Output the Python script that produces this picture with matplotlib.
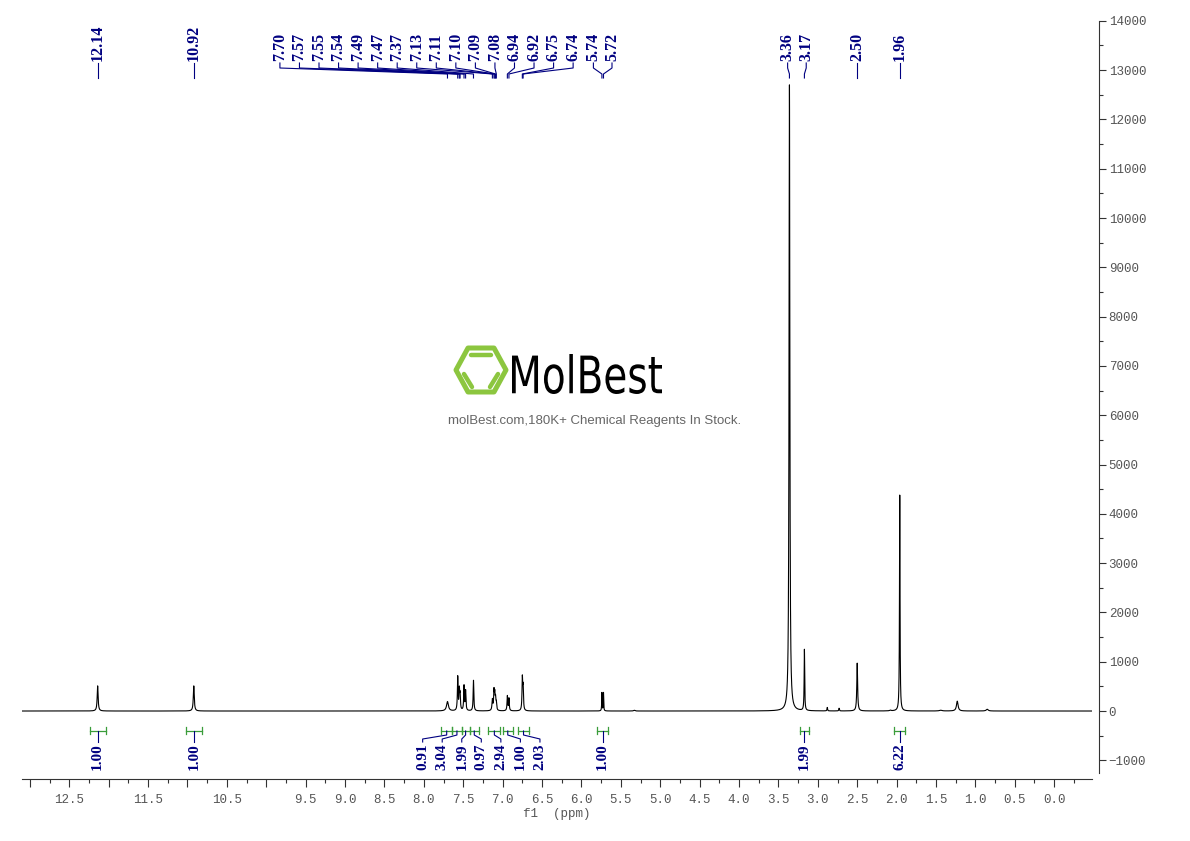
import numpy as np
import matplotlib
matplotlib.use("Agg")
import matplotlib.pyplot as plt
from matplotlib import transforms
from matplotlib.font_manager import FontProperties
from matplotlib.patches import PathPatch, Polygon
from matplotlib.textpath import TextPath
from matplotlib.lines import Line2D

# 스펙트럼 피크 (ppm, 높이, 반폭 ppm)
peak_ppm = [12.14, 10.92, 7.70, 7.57, 7.55, 7.54, 7.49, 7.47, 7.37,
            7.13, 7.11, 7.10, 7.09, 7.08, 6.94, 6.92, 6.75, 6.74,
            5.74, 5.72, 5.33, 3.36, 3.17, 2.88, 2.73, 2.50, 2.08, 1.96,
            1.44, 1.23, 0.85]
peak_height = [510, 510, 190, 680, 400, 300, 500, 400, 620,
               220, 380, 300, 220, 140, 300, 250, 640, 450,
               370, 370, 15, 12700, 1240, 70, 55, 970, 15, 4380,
               15, 200, 35]
peak_width = [0.007, 0.007, 0.014, 0.005, 0.005, 0.005, 0.005, 0.005, 0.005,
              0.006, 0.005, 0.005, 0.005, 0.005, 0.005, 0.005, 0.005, 0.005,
              0.003, 0.003, 0.01, 0.006, 0.004, 0.004, 0.004, 0.006, 0.01, 0.004,
              0.02, 0.012, 0.015]

# 상단 피크 라벨
label_ppm = [12.14, 10.92, 7.70, 7.57, 7.55, 7.54, 7.49, 7.47, 7.37, 7.13,
             7.11, 7.10, 7.09, 7.08, 6.94, 6.92, 6.75, 6.74, 5.74, 5.72,
             3.36, 3.17, 2.50, 1.96]

# 적분 구간
integ_start = [12.24, 11.02, 7.78, 7.64, 7.52, 7.42, 7.18, 7.00, 6.81, 5.80, 3.23, 2.03]
integ_end = [12.04, 10.82, 7.64, 7.52, 7.42, 7.30, 7.03, 6.87, 6.66, 5.66, 3.11, 1.89]
integ_value = [1.00, 1.00, 0.91, 3.04, 1.99, 0.97, 2.94, 1.00, 2.03, 1.00, 1.99, 6.22]

x_major = np.arange(0, 13.01, 0.5)
x_hidden = [13.0, 12.0, 11.0, 10.0]
y_major = np.arange(-1000, 14001, 1000)

NAVY = "#000080"
GREEN = "#3a9d3a"
W, H = 1190, 841

fig = plt.figure(figsize=(W / 100, H / 100), dpi=100)
ax = fig.add_axes([22 / W, (H - 779) / H, 1070 / W, 761 / H])

x = np.linspace(13.1, -0.48, 80000)
y = np.zeros_like(x)
for p, h, w in zip(peak_ppm, peak_height, peak_width):
    y += h * w ** 2 / ((x - p) ** 2 + w ** 2)
ax.plot(x, y, color="black", lw=0.8)

ax.set_xlim(13.1, -0.48)
ax.set_ylim(-1379, 14057)

for s in ["left", "top"]:
    ax.spines[s].set_visible(False)
ax.spines["right"].set_position(("outward", 5))
ax.spines["right"].set_bounds(-1260, 14000)
ax.spines["bottom"].set_color("#333333")
ax.spines["right"].set_color("#333333")

mono = FontProperties(family="Liberation Mono", size=9)
ax.set_xticks(x_major)
ax.set_xticklabels(["" if v in x_hidden else f"{v:.1f}" for v in x_major], fontproperties=mono, color="#555555")
ax.set_xticks(np.arange(-0.25, 13.01, 0.25), minor=True)
ax.yaxis.tick_right()
ax.set_yticks(y_major)
ax.set_yticklabels([str(v).replace("-", "\u2212") for v in y_major], fontproperties=mono, color="#555555")
ax.set_yticks(np.arange(-1000, 14001, 500), minor=True)
ax.tick_params(axis="x", which="major", direction="out", length=6, width=0.8, color="#333333", pad=5)
ax.tick_params(axis="x", which="minor", direction="out", length=3, width=0.8, color="#333333")
ax.tick_params(axis="y", which="major", direction="out", length=5, width=0.8, color="#333333", pad=2)
ax.tick_params(axis="y", which="minor", direction="out", length=3, width=0.8, color="#333333")
ax.set_xlabel("f1  (ppm)", fontproperties=mono, color="#555555", labelpad=1)

tr = transforms.blended_transform_factory(ax.transData, ax.transAxes)
PX_PER_PPM = 78.8


def fy(ypx):
    return (779 - ypx) / 761


def spread(vals, spacing_px, center=None):
    c = np.mean(vals) if center is None else center
    n = len(vals)
    step = spacing_px / PX_PER_PPM
    return [c + step * ((n - 1) / 2 - i) for i in range(n)]


# 피크 라벨 배치
label_groups = [([0], None), ([1], None), (list(range(2, 18)), 7.966), ([18, 19], None),
                ([20, 21], None), ([22], None), ([23], None)]
lab_font = FontProperties(family="Liberation Serif", weight="bold", size=11.5)
for idx, center in label_groups:
    ppms = [label_ppm[i] for i in idx]
    slots = spread(ppms, 19.55 if len(idx) > 2 else 18.6, center) if len(idx) > 1 else ppms
    for p, lx in zip(ppms, slots):
        ax.text(lx, fy(61), f"{p:.2f}", transform=tr, rotation=90, ha="center", va="bottom",
                fontproperties=lab_font, color=NAVY)
        ax.add_line(Line2D([lx, lx, p, p], [fy(63), fy(68), fy(74), fy(78)], transform=tr,
                           color=NAVY, lw=0.8))

# 적분 표시
int_font = FontProperties(family="Liberation Serif", weight="bold", size=11)
int_groups = [[0], [1], [2, 3, 4, 5, 6, 7, 8], [9], [10], [11]]
for idx in int_groups:
    mids = [(integ_start[i] + integ_end[i]) / 2 for i in idx]
    slots = spread(mids, 19.55) if len(idx) > 1 else mids
    for i, m, lx in zip(idx, mids, slots):
        a, b = integ_start[i], integ_end[i]
        ax.add_line(Line2D([a, b], [fy(730.5), fy(730.5)], transform=tr, color=GREEN, lw=0.9))
        for e in (a, b):
            ax.add_line(Line2D([e, e], [fy(727), fy(734)], transform=tr, color=GREEN, lw=0.9))
        ax.add_line(Line2D([m, m, lx, lx], [fy(731), fy(735), fy(739), fy(742)], transform=tr,
                           color=NAVY, lw=0.8))
        ax.text(lx, fy(743), f"{integ_value[i]:.2f}", transform=tr, rotation=90, ha="center",
                va="top", fontproperties=int_font, color=NAVY)

# 워터마크
pix = transforms.Affine2D().scale(1 / W, 1 / H) + fig.transFigure


def P(xp, yp):
    return (xp, H - yp)


LOGO = "#8cc63f"
hexv = [P(456, 370), P(468, 348), P(494, 348), P(506, 370), P(494, 392), P(468, 392)]
fig.add_artist(Polygon(hexv, closed=True, fill=False, edgecolor=LOGO, lw=3.6,
                       joinstyle="round", transform=pix))
for (x0, y0), (x1, y1) in [((471, 355), (491, 355)), ((464, 374), (472, 387)), ((498, 374), (490, 387))]:
    fig.add_artist(Line2D([x0, x1], [H - y0, H - y1], color=LOGO, lw=3.2,
                          solid_capstyle="round", transform=pix))

tp = TextPath((0, 0), "MolBest", size=100, prop=FontProperties(family="DejaVu Sans"))
bb = tp.get_extents()
mt = transforms.Affine2D().translate(-bb.x0, -bb.y0).scale(150 / bb.width, 40 / bb.height).translate(512, H - 394)
fig.add_artist(PathPatch(mt.transform_path(tp), facecolor="black", edgecolor="none", transform=pix))

fig.text(595 / W, 1 - 421 / H, "molBest.com,180K+ Chemical Reagents In Stock.", ha="center", va="center",
         fontsize=9.5, family="Liberation Sans", color="#666666")

fig.savefig("out.png", dpi=100)
